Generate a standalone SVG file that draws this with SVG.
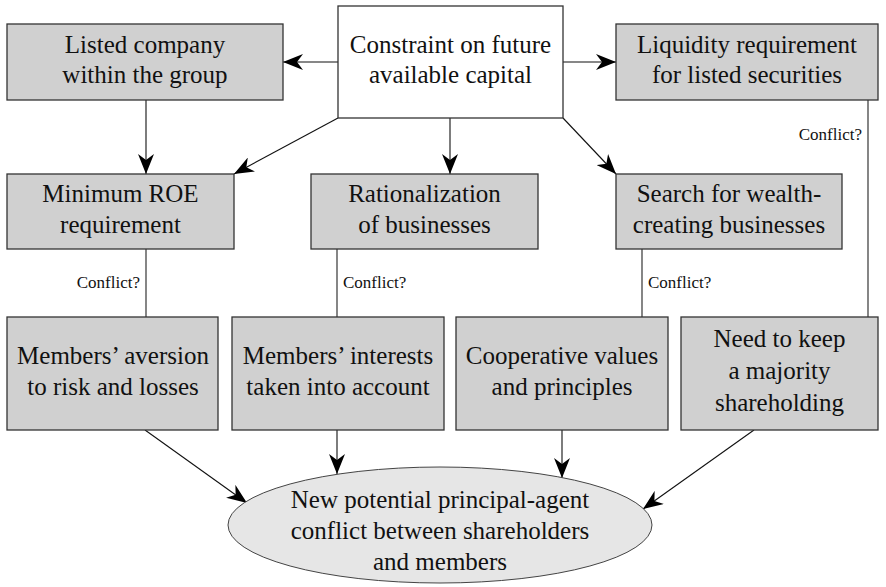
<svg xmlns="http://www.w3.org/2000/svg" width="886" height="587" viewBox="0 0 886 587">
<style>
.box{fill:#d0d0d0;stroke:#333;stroke-width:1.3}
.white{fill:#fff;stroke:#333;stroke-width:1.3}
.ell{fill:#e6e6e6;stroke:#444;stroke-width:1}
.t{font-size:25px;fill:#111;text-anchor:middle}
.c{font-size:17px;fill:#111}
.ln{stroke:#222;stroke-width:1.1;fill:none}
.ar{stroke:#111;stroke-width:1.1;fill:none;marker-end:url(#ah)}
</style>
<defs>
<marker id="ah" viewBox="0 0 20 16" refX="20" refY="8" markerWidth="20" markerHeight="16" markerUnits="userSpaceOnUse" orient="auto">
<path d="M0,0 L20,8 L0,16 L6,8 Z" fill="#000"/>
</marker>
</defs>
<rect width="886" height="587" fill="#fff"/>
<g font-family="'Liberation Serif', 'DejaVu Serif', serif">
<g id="connectors">
<line class="ar" x1="338" y1="62" x2="283" y2="62"/>
<line class="ar" x1="563" y1="62" x2="616" y2="62"/>
<line class="ar" x1="146" y1="100" x2="146" y2="174"/>
<line class="ar" x1="338" y1="118" x2="234" y2="174"/>
<line class="ar" x1="450" y1="118" x2="450" y2="174"/>
<line class="ar" x1="563" y1="118" x2="616" y2="174"/>
<line class="ln" x1="146" y1="249" x2="146" y2="317"/>
<line class="ln" x1="337" y1="249" x2="337" y2="317"/>
<line class="ln" x1="642" y1="249" x2="642" y2="317"/>
<line class="ln" x1="868" y1="100" x2="868" y2="317"/>
<text class="c" x="140" y="288" text-anchor="end">Conflict?</text>
<text class="c" x="343" y="288">Conflict?</text>
<text class="c" x="648" y="288">Conflict?</text>
<text class="c" x="862" y="140" text-anchor="end">Conflict?</text>
<line class="ar" x1="145" y1="430" x2="247" y2="503"/>
<line class="ar" x1="337" y1="430" x2="337" y2="474"/>
<line class="ar" x1="562" y1="430" x2="562" y2="478"/>
<line class="ar" x1="754" y1="430" x2="643" y2="509"/>
</g>
<g id="listed">
<rect class="box" x="7" y="24" width="276" height="76"/>
<text class="t" x="145" y="53">Listed company</text>
<text class="t" x="145" y="83">within the group</text>
</g>
<g id="constraint">
<rect class="white" x="338" y="6" width="225" height="112"/>
<text class="t" x="450.5" y="53">Constraint on future</text>
<text class="t" x="450.5" y="83">available capital</text>
</g>
<g id="liquidity">
<rect class="box" x="616" y="24" width="262" height="76"/>
<text class="t" x="747" y="53">Liquidity requirement</text>
<text class="t" x="747" y="83">for listed securities</text>
</g>
<g id="minroe">
<rect class="box" x="7" y="174" width="227" height="75"/>
<text class="t" x="120.5" y="202">Minimum ROE</text>
<text class="t" x="120.5" y="233">requirement</text>
</g>
<g id="rationalization">
<rect class="box" x="311" y="174" width="227" height="75"/>
<text class="t" x="424.5" y="202">Rationalization</text>
<text class="t" x="424.5" y="233">of businesses</text>
</g>
<g id="search">
<rect class="box" x="616" y="174" width="226" height="75"/>
<text class="t" x="729" y="202">Search for wealth-</text>
<text class="t" x="729" y="233">creating businesses</text>
</g>
<g id="aversion">
<rect class="box" x="7" y="317" width="211" height="113"/>
<text class="t" x="113" y="364">Members’ aversion</text>
<text class="t" x="113" y="395">to risk and losses</text>
</g>
<g id="interests">
<rect class="box" x="232" y="317" width="212" height="113"/>
<text class="t" x="338" y="364">Members’ interests</text>
<text class="t" x="338" y="395">taken into account</text>
</g>
<g id="cooperative">
<rect class="box" x="456" y="317" width="212" height="113"/>
<text class="t" x="562" y="364">Cooperative values</text>
<text class="t" x="562" y="395">and principles</text>
</g>
<g id="majority">
<rect class="box" x="681" y="317" width="197" height="113"/>
<text class="t" x="779.5" y="347">Need to keep</text>
<text class="t" x="779.5" y="379">a majority</text>
<text class="t" x="779.5" y="411">shareholding</text>
</g>
<g id="conflict">
<ellipse class="ell" cx="440" cy="525" rx="212" ry="58"/>
<text class="t" x="440" y="508">New potential principal-agent</text>
<text class="t" x="440" y="539">conflict between shareholders</text>
<text class="t" x="440" y="570">and members</text>
</g>
</g>
</svg>
